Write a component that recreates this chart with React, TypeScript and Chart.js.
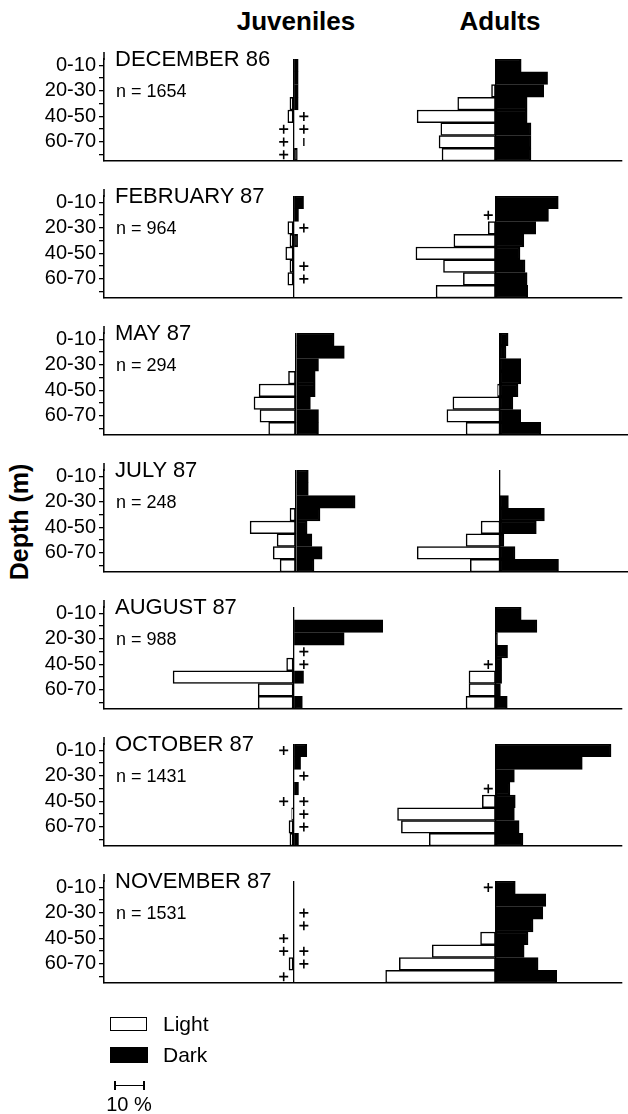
import React, { useEffect, useRef } from 'react';
import { Chart, registerables } from 'chart.js';

Chart.register(...registerables);

// ---------------- data ----------------
const DEPTH_BINS = ['0-10', '10-20', '20-30', '30-40', '40-50', '50-60', '60-70', '70-80'];
const MONTHS = ['DECEMBER 86', 'FEBRUARY 87', 'MAY 87', 'JULY 87', 'AUGUST 87', 'OCTOBER 87', 'NOVEMBER 87'];
const SAMPLE_SIZES = [1654, 964, 294, 248, 988, 1431, 1531];

// percentages per depth bin; '+' = present but below plotting resolution
const JUV_LIGHT: (number | string)[][] = [
  [0, 0, 0, 1.3, 2, '+', '+', '+'],
  [0, 0, 2, 1.3, 2.7, 1.3, 2, 0],
  [0, 0, 0, 2.5, 12.3, 14, 12, 9.1],
  [0, 0, 0, 2, 15.3, 6.3, 7.6, 5.3],
  [0, 0, 0, 0, 2.4, 40.7, 12, 12],
  ['+', 0, 0, 0, '+', 0.7, 1.6, 1.3],
  [0, 0, 0, 0, '+', '+', 1.6, '+'],
];
const JUV_DARK: (number | string)[][] = [
  [1.5, 1.5, 1.5, 1.5, '+', '+', '|', 1.2],
  [3.3, 1.6, '+', 1.3, 0, '+', '+', 0],
  [12.7, 16.1, 7.5, 6.4, 6.4, 4.8, 7.5, 7.5],
  [4.1, 4.1, 19.7, 8, 3.7, 5.3, 8.7, 6],
  [0, 30, 17, '+', '+', 3.3, 0, 2.9],
  [4.4, 2.3, '+', 1.6, '+', '+', '+', 1.6],
  [0, 0, '+', '+', 0, '+', '+', 0],
];
const ADULT_LIGHT: (number | string)[][] = [
  [0, 0, 1.3, 12.7, 26.4, 18.4, 19, 18],
  [0, '+', 2.4, 14, 26.8, 17.5, 10.8, 20],
  [0, 0, 0, 0, 0.8, 15.7, 17.7, 11.3],
  [0, 0, 0, 0, 6.3, 11.3, 27.6, 9.9],
  [0, 0, 0, 0, '+', 8.9, 8.9, 9.9],
  [0, 0, 0, '+', 4.4, 33, 31.7, 22.3],
  ['+', 0, 0, 0, 5, 21.3, 32.4, 37],
];
const ADULT_DARK: (number | string)[][] = [
  [8.7, 17.6, 16.3, 10.7, 10.7, 12, 12, 12],
  [21.2, 17.9, 13.6, 9.6, 8.3, 10, 10.7, 10.9],
  [2.7, 2, 6.9, 6.9, 6, 4.3, 6.9, 13.6],
  [0, 0, 2.8, 14.8, 12.1, 1.3, 5, 19.5],
  [8.7, 14, 0.7, 4.1, 2.1, 2.1, 1.7, 4],
  [39, 29.3, 6.4, 4.9, 6.7, 6.4, 8, 9.3],
  [6.7, 17, 16, 12.7, 11, 9.7, 14.4, 20.7],
];

// ---------------- layout / style ----------------
const FONT = '"Liberation Sans", Arial, Helvetica, sans-serif';
const PAGE_W = 628;
const AXIS_LEFT = 104;
const FIRST_BOTTOM = 174;
const PITCH = 137;
const PLOT_H = 122;
const TOP_PAD = 8;
const BOTTOM_PAD = 2;
const PX_PER_PCT = 3;
const X_MIN = -64;
const X_MAX = X_MIN + (PAGE_W - AXIS_LEFT) / PX_PER_PCT;
const ADULT_OFFSET = 68;
const JUV_PLUS_GAP = 3.4;
const ADULT_PLUS_GAP = 2.4;

const num = (v: number | string) => (typeof v === 'number' ? v : 0);

const axisExtend = {
  id: 'axisExtend',
  afterDraw(chart: any) {
    const { ctx, chartArea } = chart;
    ctx.save();
    ctx.strokeStyle = '#000';
    ctx.lineWidth = 1.5;
    ctx.beginPath();
    ctx.moveTo(chartArea.left, chartArea.top - TOP_PAD + 1);
    ctx.lineTo(chartArea.left, chartArea.top + 1);
    ctx.stroke();
    ctx.restore();
  },
};

function Panel({ idx }: { idx: number }) {
  const ref = useRef<HTMLCanvasElement | null>(null);
  const bottom = FIRST_BOTTOM + PITCH * idx;
  const height = PLOT_H + TOP_PAD + BOTTOM_PAD;
  const top = bottom - PLOT_H - TOP_PAD;

  useEffect(() => {
    const jl = JUV_LIGHT[idx];
    const jd = JUV_DARK[idx];
    const al = ADULT_LIGHT[idx];
    const ad = ADULT_DARK[idx];

    const plus: any[] = [];
    const bars: any[] = [];
    const collect = (arr: (number | string)[], pos: number) => {
      arr.forEach((v, i) => {
        if (v === '+') plus.push({ x: pos, y: DEPTH_BINS[i] });
        if (v === '|') bars.push({ x: pos, y: DEPTH_BINS[i] });
      });
    };
    collect(jl, -JUV_PLUS_GAP);
    collect(jd, JUV_PLUS_GAP);
    collect(al, ADULT_OFFSET - ADULT_PLUS_GAP);
    collect(ad, ADULT_OFFSET + ADULT_PLUS_GAP);

    const lightStyle = {
      backgroundColor: '#fff',
      borderColor: '#000',
      borderWidth: 1.5,
      borderSkipped: false,
      barPercentage: 1,
      categoryPercentage: 1,
      grouped: false,
    };
    const darkStyle = { ...lightStyle, backgroundColor: '#000' };

    const chart = new Chart(ref.current as HTMLCanvasElement, {
      type: 'bar',
      data: {
        labels: DEPTH_BINS,
        datasets: [
          { label: 'Juveniles light', data: jl.map((v) => (num(v) > 0 ? [-num(v), 0] : null)), ...lightStyle } as any,
          { label: 'Juveniles dark', data: jd.map((v) => (num(v) > 0 ? [0, num(v)] : null)), ...darkStyle } as any,
          { label: 'Adults light', data: al.map((v) => (num(v) > 0 ? [ADULT_OFFSET - num(v), ADULT_OFFSET] : null)), ...lightStyle } as any,
          { label: 'Adults dark', data: ad.map((v) => (num(v) > 0 ? [ADULT_OFFSET, ADULT_OFFSET + num(v)] : null)), ...darkStyle } as any,
          {
            type: 'scatter',
            label: 'trace',
            data: plus,
            pointStyle: 'cross',
            pointRadius: 4.5,
            borderColor: '#000',
            backgroundColor: '#000',
            borderWidth: 1.6,
          } as any,
          {
            type: 'scatter',
            label: 'trace2',
            data: bars,
            pointStyle: 'line',
            rotation: 90,
            pointRadius: 4,
            borderColor: '#000',
            backgroundColor: '#000',
            borderWidth: 1.4,
          } as any,
        ],
      },
      options: {
        indexAxis: 'y',
        animation: false,
        responsive: false,
        maintainAspectRatio: false,
        layout: { padding: { top: TOP_PAD, bottom: BOTTOM_PAD, left: 0, right: 0 } },
        plugins: { legend: { display: false }, tooltip: { enabled: false } },
        scales: {
          x: {
            type: 'linear',
            min: X_MIN,
            max: X_MAX,
            afterBuildTicks: (s: any) => {
              s.ticks = [{ value: 0 }, { value: ADULT_OFFSET }];
            },
            afterFit: (s: any) => {
              s.height = 0;
            },
            ticks: { display: false },
            grid: { drawTicks: false, color: '#000', lineWidth: 1.3 },
            border: { display: true, color: '#000', width: 1.5 },
          },
          y: {
            type: 'category',
            offset: true,
            afterFit: (s: any) => {
              s.width = AXIS_LEFT;
            },
            ticks: {
              autoSkip: false,
              callback: (_v: any, i: number) => (i % 2 === 0 ? DEPTH_BINS[i] : ''),
              font: { family: FONT, size: 20 },
              color: '#000',
              padding: 3,
            },
            grid: { offset: false, drawOnChartArea: false, drawTicks: true, tickLength: 5, color: '#000', lineWidth: 1.3 },
            border: { display: true, color: '#000', width: 1.5 },
          },
        },
      } as any,
      plugins: [axisExtend],
    });
    return () => chart.destroy();
  }, [idx]);

  const binsTop = bottom - PLOT_H;
  return (
    <>
      <canvas
        ref={ref}
        width={PAGE_W}
        height={height}
        style={{ position: 'absolute', left: 0, top, width: PAGE_W, height }}
      />
      <div style={{ position: 'absolute', left: 115, top: binsTop - 4, font: `22px ${FONT}`, lineHeight: '22px', whiteSpace: 'nowrap', color: '#000' }}>
        {MONTHS[idx]}
      </div>
      <div style={{ position: 'absolute', left: 116, top: binsTop + 30, font: `18px ${FONT}`, lineHeight: '18px', whiteSpace: 'nowrap', color: '#000' }}>
        {`n = ${SAMPLE_SIZES[idx]}`}
      </div>
    </>
  );
}

export default function App() {
  const juvX = AXIS_LEFT + (0 - X_MIN) * PX_PER_PCT;
  const adX = AXIS_LEFT + (ADULT_OFFSET - X_MIN) * PX_PER_PCT;
  return (
    <div style={{ position: 'absolute', left: 0, top: 0, width: PAGE_W, height: 1114, background: '#fff', overflow: 'hidden', fontFamily: FONT }}>
      <div style={{ position: 'absolute', left: juvX, top: 8, transform: 'translateX(-50%)', font: `bold 26px ${FONT}`, lineHeight: '26px', whiteSpace: 'nowrap' }}>Juveniles</div>
      <div style={{ position: 'absolute', left: adX, top: 8, transform: 'translateX(-50%)', font: `bold 26px ${FONT}`, lineHeight: '26px', whiteSpace: 'nowrap' }}>Adults</div>
      <div style={{ position: 'absolute', left: 19, top: 522, transform: 'translate(-50%, -50%) rotate(-90deg)', font: `bold 25px ${FONT}`, lineHeight: '25px', whiteSpace: 'nowrap' }}>Depth (m)</div>
      {MONTHS.map((_, i) => (
        <Panel key={i} idx={i} />
      ))}
      {/* legend */}
      <div style={{ position: 'absolute', left: 110, top: 1017, width: 35, height: 12, border: '1.5px solid #000', background: '#fff' }} />
      <div style={{ position: 'absolute', left: 163, top: 1013, font: `21px ${FONT}`, lineHeight: '22px' }}>Light</div>
      <div style={{ position: 'absolute', left: 110, top: 1047, width: 38, height: 16, background: '#000' }} />
      <div style={{ position: 'absolute', left: 163, top: 1044, font: `21px ${FONT}`, lineHeight: '22px' }}>Dark</div>
      <div style={{ position: 'absolute', left: 114, top: 1081, width: 1.5, height: 9, background: '#000' }} />
      <div style={{ position: 'absolute', left: 114, top: 1085, width: 10 * PX_PER_PCT, height: 1.3, background: '#000' }} />
      <div style={{ position: 'absolute', left: 114 + 10 * PX_PER_PCT - 1, top: 1081, width: 1.5, height: 9, background: '#000' }} />
      <div style={{ position: 'absolute', left: 129, top: 1094, transform: 'translateX(-50%)', font: `20px ${FONT}`, lineHeight: '20px', whiteSpace: 'nowrap' }}>10 %</div>
    </div>
  );
}
